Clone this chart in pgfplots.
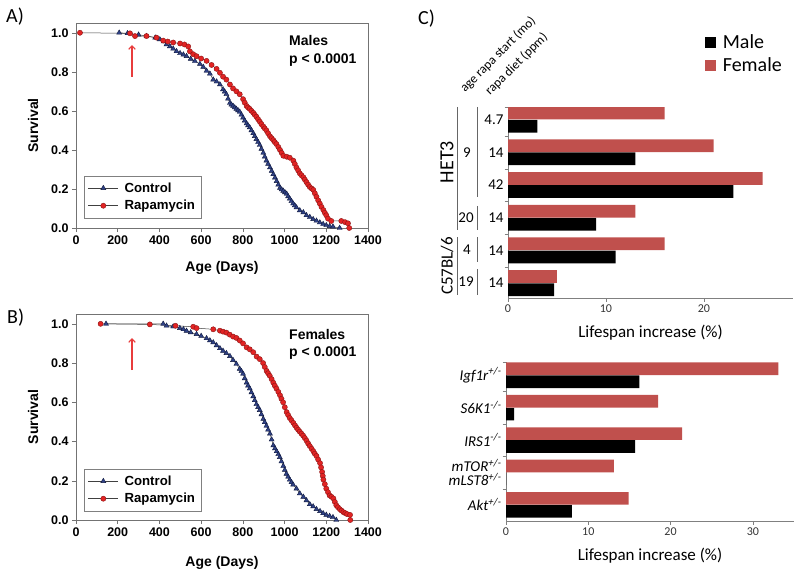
\documentclass[border=0pt]{standalone}
\usepackage{pgfplots}
\pgfplotsset{compat=1.18}
\usepackage{fontspec}
\setmainfont{Liberation Sans}
\newfontfamily\calfont{Carlito}
\usetikzlibrary{arrows.meta}

\definecolor{rapred}{RGB}{226,36,36}
\definecolor{rapedge}{RGB}{140,20,20}
\definecolor{ctlblue}{RGB}{48,66,135}
\definecolor{ctledge}{RGB}{15,24,60}
\definecolor{femred}{RGB}{192,80,77}
\definecolor{arrowred}{RGB}{232,60,60}

\pgfplotsset{
  surv/.style={
    scale only axis, width=292pt,
    xmin=0, xmax=1400, ymin=0, ymax=1.05,
    xtick={0,200,...,1400}, ytick={0,0.2,0.4,0.6,0.8,1.0},
    tick pos=left, tick align=outside, major tick length=4pt,
    axis line style={draw=black!55},
    tick style={draw=black!55, line width=0.5pt},
    /pgf/number format/assume math mode=true,
    ticklabel style={font=\fontsize{12.5}{14}\selectfont\bfseries},
    yticklabel style={/pgf/number format/fixed, /pgf/number format/fixed zerofill, /pgf/number format/precision=1},
    xticklabel style={/pgf/number format/1000 sep={}},
    label style={font=\fontsize{14}{16}\selectfont\bfseries},
    xlabel={Age (Days)}, ylabel={Survival},
    ylabel style={at={(axis description cs:-0.147,0.5)}, anchor=center},
    legend cell align=left,
    legend style={draw=black!50, font=\fontsize{13.2}{15}\selectfont\bfseries,
      inner xsep=4pt, inner ysep=4.5pt, row sep=2.5pt,
      /tikz/every odd column/.style={column sep=4pt}},
    legend image code/.code={\draw[mark repeat=2,mark phase=2,#1] plot coordinates {(0pt,0pt) (15pt,0pt) (30pt,0pt)};},
  },
  ctl/.style={draw=black!75, line width=0.5pt, mark=triangle*, mark size=2.9pt,
    mark options={fill=ctlblue, draw=ctledge, line width=0.4pt}},
  rap/.style={draw=black!75, line width=0.5pt, mark=*, mark size=2.6pt,
    mark options={fill=rapred, draw=rapedge, line width=0.4pt}},
  barc/.style={
    scale only axis, xbar, y dir=reverse, bar width=0.39,
    axis x line*=bottom, axis y line*=left, axis line style={-, draw=black!50},
    tick align=outside, major tick length=3.5pt, tick style={draw=black!50},
    /pgf/number format/assume math mode=true,
    xticklabel style={font=\calfont\fontsize{12}{14}\selectfont, text=black!80},
    yticklabels={},
    xlabel={Lifespan increase (\%)},
  },
}

\begin{document}
\begin{tikzpicture}
\path[use as bounding box] (0pt,0pt) rectangle (800pt,-572pt);

% ---------- A) males
\begin{axis}[surv, at={(76pt,-228pt)}, anchor=south west, height=205pt,
  xlabel style={at={(axis description cs:0.5,-0.195)}, anchor=center},
  legend style={at={(axis description cs:0.027,0.049)}, anchor=south west}]
\addplot[ctl] coordinates {
(207,1.000) (247,0.997) (300,0.990) (338,0.983) (380,0.975) (402,0.966) (420,0.955)
(434,0.940) (450,0.930) (466,0.918) (482,0.905) (499,0.895) (515,0.888) (530,0.880)
(550,0.866) (570,0.855) (594,0.840) (610,0.825) (626,0.805) (642,0.790) (658,0.760)
(674,0.750) (690,0.735) (705,0.710) (713,0.698) (721,0.685) (729,0.662) (738,0.640)
(745,0.632) (753,0.625) (761,0.617) (769,0.610) (777,0.602) (785,0.595) (793,0.580)
(801,0.565) (809,0.550) (818,0.535) (825,0.525) (833,0.515) (841,0.500) (850,0.485)
(857,0.470) (865,0.455) (873,0.440) (881,0.425) (889,0.405) (898,0.385) (905,0.365)
(913,0.345) (921,0.328) (930,0.310) (938,0.292) (946,0.275) (954,0.258) (962,0.240)
(970,0.222) (978,0.205) (986,0.197) (994,0.190) (1002,0.182) (1010,0.175) (1017,0.162)
(1025,0.150) (1033,0.137) (1041,0.125) (1049,0.115) (1057,0.105) (1073,0.090)
(1090,0.080) (1105,0.065) (1121,0.056) (1137,0.045) (1153,0.037) (1169,0.028)
(1185,0.020) (1200,0.014) (1216,0.009) (1232,0.007) (1264,0.000)};
\addplot[rap] coordinates {
(19,1.000) (259,0.997) (283,0.983) (338,0.983) (386,0.975) (418,0.960) (440,0.955)
(466,0.950) (499,0.945) (520,0.940) (538,0.930) (546,0.905) (562,0.890) (578,0.880)
(600,0.868) (626,0.856) (650,0.835) (674,0.815) (690,0.795) (705,0.775) (721,0.760)
(738,0.735) (753,0.715) (769,0.700) (785,0.685) (801,0.660) (809,0.642) (818,0.625)
(825,0.617) (833,0.610) (841,0.600) (850,0.590) (857,0.580) (865,0.570) (873,0.557)
(881,0.545) (889,0.532) (898,0.520) (905,0.510) (913,0.500) (921,0.485) (930,0.470)
(938,0.460) (946,0.450) (953,0.440) (961,0.430) (970,0.415) (978,0.400) (986,0.385)
(994,0.370) (1010,0.365) (1025,0.360) (1042,0.345) (1049,0.328) (1057,0.310)
(1065,0.295) (1073,0.280) (1081,0.270) (1090,0.260) (1097,0.248) (1105,0.235)
(1113,0.222) (1121,0.210) (1130,0.202) (1138,0.195) (1145,0.178) (1153,0.160)
(1161,0.142) (1169,0.125) (1177,0.108) (1186,0.092) (1193,0.078) (1200,0.065)
(1208,0.048) (1224,0.036) (1272,0.036) (1290,0.030) (1304,0.024) (1310,0.000)};
\legend{Control,Rapamycin}
\end{axis}

% ---------- B) females
\begin{axis}[surv, at={(76pt,-520pt)}, anchor=south west, height=206pt,
  xlabel style={at={(axis description cs:0.5,-0.209)}, anchor=center},
  legend style={at={(axis description cs:0.027,0.044)}, anchor=south west}]
\addplot[ctl] coordinates {
(144,1.000) (418,1.000) (434,0.990) (466,0.986) (498,0.978) (515,0.972) (530,0.964)
(550,0.956) (578,0.947) (600,0.938) (626,0.926) (642,0.915) (658,0.905) (674,0.890)
(690,0.875) (705,0.862) (721,0.850) (738,0.835) (753,0.815) (769,0.795) (785,0.770)
(793,0.758) (801,0.745) (809,0.722) (818,0.700) (825,0.685) (833,0.670) (841,0.650)
(850,0.630) (857,0.610) (865,0.590) (873,0.575) (881,0.560) (889,0.538) (898,0.515)
(905,0.498) (913,0.480) (921,0.460) (930,0.440) (938,0.410) (946,0.380) (954,0.365)
(962,0.350) (970,0.335) (977,0.320) (985,0.298) (994,0.275) (1001,0.255) (1009,0.235)
(1017,0.220) (1025,0.205) (1033,0.192) (1041,0.180) (1057,0.160) (1073,0.135)
(1090,0.118) (1105,0.100) (1121,0.080) (1137,0.069) (1153,0.055) (1170,0.045)
(1185,0.034) (1200,0.026) (1216,0.020) (1232,0.014) (1248,0.000)};
\addplot[rap] coordinates {
(118,1.000) (354,0.997) (477,0.990) (562,0.985) (578,0.978) (658,0.972) (690,0.965)
(705,0.960) (721,0.955) (737,0.945) (753,0.935) (769,0.928) (785,0.915) (801,0.900)
(818,0.880) (833,0.870) (850,0.855) (866,0.833) (881,0.820) (897,0.800) (905,0.780)
(914,0.760) (921,0.748) (929,0.735) (938,0.718) (946,0.700) (953,0.685) (961,0.670)
(970,0.653) (978,0.636) (985,0.618) (993,0.600) (1001,0.575) (1010,0.550) (1017,0.535)
(1025,0.520) (1033,0.508) (1042,0.495) (1050,0.482) (1058,0.470) (1065,0.460)
(1073,0.450) (1081,0.440) (1089,0.430) (1097,0.418) (1105,0.405) (1113,0.390)
(1121,0.377) (1130,0.363) (1138,0.350) (1145,0.338) (1153,0.326) (1161,0.308)
(1170,0.290) (1175,0.268) (1180,0.245) (1183,0.225) (1186,0.206) (1193,0.183)
(1200,0.160) (1208,0.142) (1216,0.125) (1225,0.118) (1234,0.110) (1241,0.092)
(1248,0.075) (1256,0.065) (1265,0.055) (1273,0.048) (1282,0.040) (1291,0.035)
(1300,0.030) (1314,0.026) (1315,0.000)};
\legend{Control,Rapamycin}
\end{axis}

% ---------- C) top: rapamycin in HET3 and C57BL/6
\begin{axis}[barc, at={(508pt,-298pt)}, anchor=south west, width=285pt, height=191pt,
  xmin=0, xmax=29.1, ymin=-0.385, ymax=5.456,
  xtick={0,10,20},
  ytick={-0.385,0.5,1.5,2.5,3.5,4.5},
  extra y ticks={0,1,2,3,4,5},
  extra y tick labels={4.7,14,42,14,14,14},
  extra y tick style={major tick length=0pt,
    tick label style={font=\calfont\fontsize{15}{17}\selectfont, xshift=-1pt}},
  xlabel style={font=\calfont\fontsize{17}{19}\selectfont, at={(axis description cs:0.5,-0.183)}, anchor=center},
  legend cell align=left,
  legend style={at={(axis description cs:0.69,1.39)}, anchor=north west, draw=none, fill=none,
    inner sep=0pt, row sep=4pt, font=\calfont\fontsize{20}{22}\selectfont,
    /tikz/every odd column/.style={column sep=5pt}},
  legend image code/.code={\fill[#1] (0pt,-5.5pt) rectangle (11pt,5.5pt);}]
\addplot[fill=black, draw=none, bar shift=0.2] coordinates {(3,0) (13,1) (23,2) (9,3) (11,4) (4.7,5)};
\addplot[fill=femred, draw=none, bar shift=-0.2] coordinates {(16,0) (21,1) (26,2) (13,3) (16,4) (5,5)};
\legend{Male,Female}
\end{axis}

% ---------- C) bottom: genetic models
\begin{axis}[barc, at={(506pt,-521pt)}, anchor=south west, width=288pt, height=159pt,
  xmin=0, xmax=35, ymin=-0.41, ymax=4.5,
  xtick={0,10,20,30},
  ytick={-0.41,0.5,1.5,2.5,3.5},
  extra y ticks={0,1,2,3,4},
  extra y tick labels={{\textit{Igf1r}\textsuperscript{\textit{+/-}}},
    {\textit{S6K1}\textsuperscript{\textit{-/-}}},
    {\textit{IRS1}\textsuperscript{\textit{-/-}}},
    {\textit{mTOR}\textsuperscript{\textit{+/-}}\\\textit{mLST8}\textsuperscript{\textit{+/-}}},
    {\textit{Akt}\textsuperscript{\textit{+/-}}}},
  extra y tick style={major tick length=0pt,
    tick label style={font=\calfont\fontsize{15}{14.5}\selectfont, align=right, xshift=-1pt}},
  xlabel style={font=\calfont\fontsize{17}{19}\selectfont, at={(axis description cs:0.5,-0.22)}, anchor=center}]
\addplot[fill=black, draw=none, bar shift=0.2] coordinates {(16.2,0) (1.0,1) (15.7,2) (0,3) (8.0,4)};
\addplot[fill=femred, draw=none, bar shift=-0.2] coordinates {(33.1,0) (18.5,1) (21.4,2) (13.1,3) (14.9,4)};
\end{axis}

% ---------- annotations
\begin{scope}[every node/.style={inner sep=0pt}]
\node[font=\calfont\fontsize{20}{22}\selectfont, anchor=base west] at (6pt,-23pt) {A)};
\node[font=\calfont\fontsize{20}{22}\selectfont, anchor=base west] at (7pt,-323pt) {B)};
\node[font=\calfont\fontsize{20}{22}\selectfont, anchor=base west] at (418pt,-25pt) {C)};

\node[font=\fontsize{14}{16}\selectfont\bfseries, anchor=base west] at (289pt,-45.7pt) {Males};
\node[font=\fontsize{14}{16}\selectfont\bfseries, anchor=base west] at (289pt,-63.3pt) {p < 0.0001};
\node[font=\fontsize{14}{16}\selectfont\bfseries, anchor=base west] at (289pt,-339.3pt) {Females};
\node[font=\fontsize{14}{16}\selectfont\bfseries, anchor=base west] at (289pt,-356pt) {p < 0.0001};

\node[font=\calfont\fontsize{13}{15}\selectfont, anchor=base west, rotate=45] at (465pt,-93pt) {age rapa start (mo)};
\node[font=\calfont\fontsize{13}{15}\selectfont, anchor=base west, rotate=45] at (490pt,-96pt) {rapa diet (ppm)};

\node[font=\calfont\fontsize{20}{22}\selectfont, rotate=90] at (447pt,-162pt) {HET3};
\node[font=\calfont\fontsize{17}{19}\selectfont, rotate=90] at (447pt,-266pt) {C57BL/6};
\node[font=\calfont\fontsize{15}{17}\selectfont] at (467pt,-153pt) {9};
\node[font=\calfont\fontsize{15}{17}\selectfont] at (466pt,-218pt) {20};
\node[font=\calfont\fontsize{15}{17}\selectfont] at (467pt,-250pt) {4};
\node[font=\calfont\fontsize{15}{17}\selectfont] at (466pt,-282pt) {19};
\end{scope}

\draw[arrowred, line width=1.1pt, -{Straight Barb[length=3.5pt,width=6.5pt]}] (132pt,-77pt) -- (132pt,-45pt);
\draw[arrowred, line width=1.1pt, -{Straight Barb[length=3.5pt,width=6.5pt]}] (132pt,-370pt) -- (132pt,-338pt);

\draw[black!60, line width=0.6pt] (457pt,-107pt) -- (457pt,-230pt);
\draw[black!60, line width=0.6pt] (457pt,-237pt) -- (457pt,-295pt);
\draw[black!60, line width=0.6pt] (477pt,-107pt) -- (477pt,-197pt);
\draw[black!60, line width=0.6pt] (477pt,-206pt) -- (477pt,-230pt);
\draw[black!60, line width=0.6pt] (477pt,-237pt) -- (477pt,-262pt);
\draw[black!60, line width=0.6pt] (477pt,-269pt) -- (477pt,-295pt);
\end{tikzpicture}
\end{document}
